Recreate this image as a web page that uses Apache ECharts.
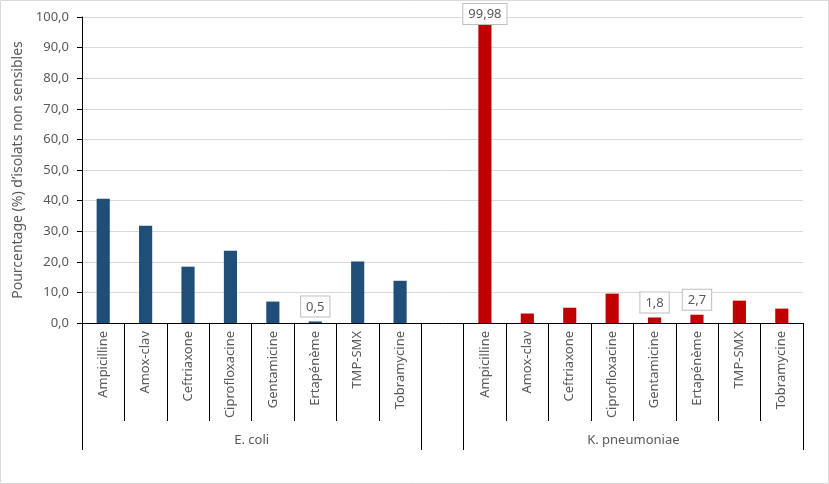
<!DOCTYPE html>
<html>
<head>
<meta charset="utf-8">
<script src="https://cdn.jsdelivr.net/npm/echarts@6/dist/echarts.min.js"></script>
<style>
html,body{margin:0;padding:0;background:#fff;}
#chart{width:829px;height:484px;}
</style>
</head>
<body>
<div id="chart"></div>
<script>
// ---- Data ----
const categories = ['Ampicilline', 'Amox-clav', 'Ceftriaxone', 'Ciprofloxacine', 'Gentamicine', 'Ertapénème', 'TMP-SMX', 'Tobramycine'];
const groups = ['E. coli', 'K. pneumoniae'];
const ecoliValues = [40.6, 31.8, 18.4, 23.6, 7.0, 0.5, 20.1, 13.8];
const kpneuValues = [99.98, 3.1, 5.0, 9.6, 1.8, 2.7, 7.3, 4.7];
const ecoliLabeled = ['Ertapénème'];
const kpneuLabeled = ['Ampicilline', 'Gentamicine', 'Ertapénème'];
const yMin = 0, yMax = 100, yStep = 10;
const yAxisTitle = 'Pourcentage (%) d’isolats non sensibles';

// ---- Build axis keys: group 1, gap, group 2 ----
const xKeys = [];
categories.forEach(c => xKeys.push(groups[0] + '|' + c));
xKeys.push('gap|');
categories.forEach(c => xKeys.push(groups[1] + '|' + c));

const n = categories.length;
const groupBoundaries = [0, n, n + 1, 2 * n + 1];
const groupCenters = [n / 2, n + 1 + n / 2];

const textColor = '#595959';
const font = 'Noto Sans';

const calloutLabel = {
  show: true,
  position: 'top',
  distance: 5,
  color: textColor,
  fontSize: 13,
  fontFamily: font,
  backgroundColor: '#ffffff',
  borderColor: '#BFBFBF',
  borderWidth: 1,
  padding: [4, 5, 3, 5],
  formatter: p => String(p.value).replace('.', ',')
};

function buildSeries(groupIdx, values, labeled) {
  return xKeys.map(k => {
    const [g, c] = k.split('|');
    if (g !== groups[groupIdx]) return null;
    const v = values[categories.indexOf(c)];
    const item = { value: v };
    if (labeled.indexOf(c) >= 0) {
      item.label = Object.assign({}, calloutLabel);
      if (v > 95) item.label.offset = [0, 12];
    }
    return item;
  });
}

const chart = echarts.init(document.getElementById('chart'), null, { renderer: 'canvas' });
chart.setOption({
  animation: false,
  backgroundColor: '#ffffff',
  textStyle: { fontFamily: font },
  graphic: [{
    type: 'rect', silent: true, z: -1,
    shape: { x: 0.5, y: 0.5, width: 828, height: 483 },
    style: { fill: 'none', stroke: '#D9D9D9', lineWidth: 1 }
  }],
  grid: { left: 82, right: 26, top: 17, bottom: 161, containLabel: false, outerBoundsMode: 'none' },
  xAxis: [{
    type: 'category',
    data: xKeys,
    position: 'bottom',
    axisLine: { show: true, lineStyle: { color: '#000', width: 1 } },
    axisTick: { show: true, interval: 0, length: 98, lineStyle: { color: '#000', width: 1 } },
    axisLabel: {
      interval: 0, rotate: 90, margin: 8, fontSize: 13, color: textColor, fontFamily: font,
      formatter: v => v.split('|')[1]
    },
    splitLine: { show: false }
  }, {
    type: 'value',
    min: 0, max: 2 * n + 1,
    position: 'bottom',
    axisLine: { show: false },
    axisTick: { show: true, customValues: groupBoundaries, length: 127, lineStyle: { color: '#000', width: 1 } },
    axisLabel: {
      customValues: groupCenters, margin: 111, fontSize: 13, color: textColor, fontFamily: font,
      formatter: v => groups[groupCenters.indexOf(v)] || ''
    },
    splitLine: { show: false }
  }],
  yAxis: {
    type: 'value',
    min: yMin, max: yMax, interval: yStep,
    name: yAxisTitle,
    nameLocation: 'middle',
    nameGap: 50,
    nameTextStyle: { fontSize: 14, color: textColor, fontFamily: font },
    axisLine: { show: true, lineStyle: { color: '#000', width: 1 } },
    axisTick: { show: true, length: 5, lineStyle: { color: '#000' } },
    axisLabel: {
      margin: 13, fontSize: 13, color: textColor, fontFamily: font,
      formatter: v => v.toFixed(1).replace('.', ',')
    },
    splitLine: { show: true, lineStyle: { color: '#D9D9D9', width: 1 } }
  },
  series: [{
    name: groups[0],
    type: 'bar',
    xAxisIndex: 0,
    barWidth: '31%',
    barGap: '-100%',
    itemStyle: { color: '#1F4E79' },
    data: buildSeries(0, ecoliValues, ecoliLabeled)
  }, {
    name: groups[1],
    type: 'bar',
    xAxisIndex: 0,
    barWidth: '31%',
    barGap: '-100%',
    itemStyle: { color: '#C00000' },
    data: buildSeries(1, kpneuValues, kpneuLabeled)
  }]
});
</script>
</body>
</html>
